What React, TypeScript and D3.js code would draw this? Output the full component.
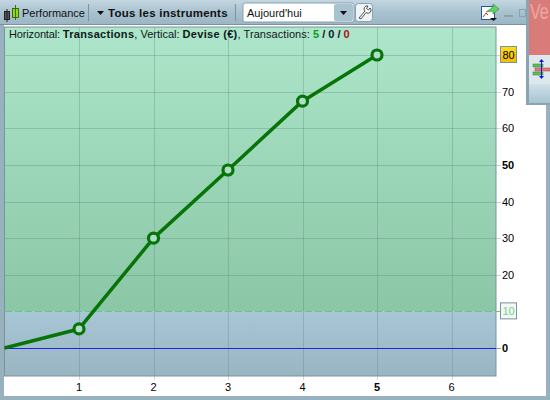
import { useRef, useEffect } from 'react'
import * as d3 from 'd3'

const transactions = [0, 1, 2, 3, 4, 5]
const equity = [0, 5.2, 30, 48.6, 67.4, 80]
const xTicks = [1, 2, 3, 4, 5, 6]
const yTicks = [0, 10, 20, 30, 40, 50, 60, 70, 80]
const yLabels = [0, 20, 30, 40, 50, 60, 70]
const boldYLabels = [0, 50]
const boldXLabels = [5]
const threshold = 10
const lastValue = 80
const font = '"Liberation Sans", Arial, sans-serif'

export default function App() {
  const ref = useRef<SVGSVGElement>(null)

  useEffect(() => {
    if (!ref.current) return
    document.body.style.margin = '0'
    const svg = d3.select(ref.current)
    svg.selectAll('*').remove()

    const plot = { left: 4.5, right: 496, top: 27, bottom: 376 }
    const x = d3.scaleLinear().domain([0, 6]).range([4.5, 451.5])
    const y = d3.scaleLinear().domain([0, 80]).range([348, 55])

    const defs = svg.append('defs')
    const gradient = (id: string, stops: [number, string][]) => {
      const g = defs.append('linearGradient').attr('id', id).attr('x1', 0).attr('x2', 0).attr('y1', 0).attr('y2', 1)
      stops.forEach(([o, c]) => g.append('stop').attr('offset', o).attr('stop-color', c))
    }
    gradient('bar', [[0, '#c3d7e1'], [0.5, '#a8c1cf'], [1, '#9ab5c4']])
    gradient('green', [[0, '#ade6ca'], [1, '#8bc6a6']])
    gradient('blue', [[0, '#a7c6d6'], [1, '#9ab5c2']])
    gradient('strip', [[0, '#cfe0e8'], [1, '#a9c4d2']])
    gradient('gold', [[0, '#ffdc1e'], [1, '#f2bb00']])

    // window frame
    svg.append('rect').attr('width', 550).attr('height', 400).attr('fill', '#97b1bf')
    svg.append('rect').attr('x', 0).attr('y', 0).attr('width', 550).attr('height', 25).attr('fill', 'url(#bar)')
    svg.append('rect').attr('x', 4).attr('y', 25).attr('width', 542).attr('height', 371).attr('fill', '#fff')
    svg.append('rect').attr('x', 0).attr('y', 24).attr('width', 546).attr('height', 1).attr('fill', '#7c929e')

    // plot background
    svg.append('rect').attr('x', plot.left).attr('y', plot.top).attr('width', plot.right - plot.left)
      .attr('height', y(threshold) - plot.top).attr('fill', 'url(#green)')
    svg.append('rect').attr('x', plot.left).attr('y', y(threshold)).attr('width', plot.right - plot.left)
      .attr('height', plot.bottom - y(threshold)).attr('fill', 'url(#blue)')

    // grid
    svg.append('g').selectAll('line').data(xTicks).join('line')
      .attr('x1', (d) => Math.round(x(d)) + 0.5).attr('x2', (d) => Math.round(x(d)) + 0.5).attr('y1', plot.top).attr('y2', plot.bottom + 4)
      .attr('stroke', '#4f7f78').attr('stroke-opacity', 0.3)
    svg.append('g').selectAll('line').data(yTicks.filter((d) => d !== 0 && d !== threshold)).join('line')
      .attr('x1', plot.left).attr('x2', plot.right + 5).attr('y1', (d) => Math.round(y(d)) + 0.5).attr('y2', (d) => Math.round(y(d)) + 0.5)
      .attr('stroke', '#4f7f78').attr('stroke-opacity', 0.3)

    svg.append('rect').attr('x', plot.left).attr('y', plot.top).attr('width', plot.right - plot.left)
      .attr('height', plot.bottom - plot.top).attr('fill', 'none').attr('stroke', '#7b939d')

    // zero and threshold lines
    svg.append('line').attr('x1', plot.left).attr('x2', plot.right).attr('y1', y(0) + 0.5).attr('y2', y(0) + 0.5)
      .attr('stroke', '#2222e0')
    svg.append('line').attr('x1', plot.right).attr('x2', plot.right + 5).attr('y1', y(0) + 0.5).attr('y2', y(0) + 0.5)
      .attr('stroke', '#8a9aa4')
    svg.append('line').attr('x1', plot.left).attr('x2', plot.right + 5).attr('y1', Math.round(y(threshold)) + 0.5).attr('y2', Math.round(y(threshold)) + 0.5)
      .attr('stroke', '#6cc585').attr('stroke-dasharray', '8 2')

    // axis labels
    svg.append('g').selectAll('text').data(xTicks).join('text')
      .attr('x', (d) => x(d)).attr('y', 391).attr('text-anchor', 'middle')
      .attr('font-family', font).attr('font-size', 11)
      .attr('font-weight', (d) => (boldXLabels.includes(d) ? 'bold' : 'normal'))
      .text((d) => d)
    svg.append('g').selectAll('text').data(yLabels).join('text')
      .attr('x', 502).attr('y', (d) => y(d) + 4)
      .attr('font-family', font).attr('font-size', 11)
      .attr('font-weight', (d) => (boldYLabels.includes(d) ? 'bold' : 'normal'))
      .text((d) => d)

    // value flags
    svg.append('rect').attr('x', 500.5).attr('y', y(lastValue) - 8.5).attr('width', 16).attr('height', 16)
      .attr('fill', 'url(#gold)').attr('stroke', '#7b939d')
    svg.append('text').attr('x', 508.5).attr('y', y(lastValue) + 4).attr('text-anchor', 'middle')
      .attr('font-family', font).attr('font-size', 11).text(lastValue)
    svg.append('rect').attr('x', 500.5).attr('y', y(threshold) - 8.5).attr('width', 16).attr('height', 16)
      .attr('fill', '#f4f7f8').attr('stroke', '#7b939d')
    svg.append('text').attr('x', 508.5).attr('y', y(threshold) + 4).attr('text-anchor', 'middle')
      .attr('font-family', font).attr('font-size', 11).attr('fill', '#6fd67f').text(threshold)

    // equity curve
    const pts = transactions.map((t, i) => [x(t), y(equity[i])] as [number, number])
    svg.append('path').attr('d', d3.line()(pts)).attr('fill', 'none').attr('stroke', '#067406')
      .attr('stroke-width', 3.5).attr('stroke-linejoin', 'round')
    svg.append('g').selectAll('circle').data(pts.slice(1)).join('circle')
      .attr('cx', (d) => d[0]).attr('cy', (d) => d[1]).attr('r', 5)
      .attr('fill', '#b0dccb').attr('stroke', '#067406').attr('stroke-width', 3.2)

    // header line
    const header = svg.append('text').attr('x', 9).attr('y', 38).attr('font-family', font).attr('font-size', 11).attr('fill', '#101820')
    const part = (t: string, spacing: number, bold = false, fill?: string) => {
      const s = header.append('tspan').text(t).attr('font-weight', bold ? 'bold' : 'normal').attr('letter-spacing', spacing)
      if (fill) s.attr('fill', fill)
    }
    part('Horizontal: ', -0.15)
    part('Transactions', 0.3, true)
    part(', Vertical: ', 0)
    part('Devise (€)', 0.3, true)
    part(', Transactions: ', 0.05)
    part('5', 0, true, '#119a11')
    part(' / ', 0, true)
    part('0', 0, true)
    part(' / ', 0, true)
    part('0', 0, true, '#a81212')

    // toolbar
    const bar = svg.append('g')
    bar.append('rect').attr('x', 4.5).attr('y', 11.5).attr('width', 5).attr('height', 8).attr('fill', '#555').attr('stroke', '#222')
    bar.append('line').attr('x1', 7).attr('x2', 7).attr('y1', 9).attr('y2', 22).attr('stroke', '#222')
    bar.append('rect').attr('x', 12.5).attr('y', 8.5).attr('width', 6).attr('height', 9).attr('fill', '#8cd820').attr('stroke', '#3c6a08')
    bar.append('line').attr('x1', 15.5).attr('x2', 15.5).attr('y1', 5).attr('y2', 20).attr('stroke', '#3c6a08')
    bar.append('text').attr('x', 22).attr('y', 17).attr('font-family', font).attr('font-size', 11).attr('fill', '#111').text('Performance')
    ;[88.5, 235.5].forEach((p) => bar.append('line').attr('x1', p).attr('x2', p).attr('y1', 4).attr('y2', 21).attr('stroke', '#7c929e'))
    bar.append('path').attr('d', 'M97 11h7l-3.5 4z').attr('fill', '#111')
    bar.append('text').attr('x', 108).attr('y', 17).attr('font-family', font).attr('font-size', 11.5).attr('font-weight', 'bold')
      .attr('letter-spacing', 0.25).attr('fill', '#111').text('Tous les instruments')
    bar.append('rect').attr('x', 243).attr('y', 3).attr('width', 111).attr('height', 19).attr('rx', 2).attr('fill', '#fff').attr('stroke', '#8aa0ac')
    bar.append('text').attr('x', 247).attr('y', 17).attr('font-family', font).attr('font-size', 11).attr('fill', '#111').text("Aujourd'hui")
    bar.append('rect').attr('x', 334).attr('y', 4).attr('width', 19).attr('height', 17).attr('rx', 2).attr('fill', '#a9c2d0')
    bar.append('path').attr('d', 'M340 11h7l-3.5 4z').attr('fill', '#111')
    bar.append('rect').attr('x', 355.5).attr('y', 3.5).attr('width', 17).attr('height', 18).attr('rx', 3).attr('fill', '#eef3f6').attr('stroke', '#8aa0ac')
    bar.append('path').attr('d', 'M359 18l6-7a3 3 0 0 1 3-5l-1.5 2.5 2 1.5 1.5-2a3 3 0 0 1-4 4.5l-5 6.5z')
      .attr('fill', '#fff').attr('stroke', '#222').attr('stroke-width', 0.8)

    // export icon and window buttons
    bar.append('rect').attr('x', 481.5).attr('y', 6.5).attr('width', 13).attr('height', 13).attr('fill', '#fff').attr('stroke', '#2a55a5')
    bar.append('path').attr('d', 'M483 17l3-4 2 2').attr('fill', 'none').attr('stroke', '#c03030')
    bar.append('path').attr('d', 'M486 12l7-5v-3l6 5-6 5v-3z').attr('fill', '#5fd35f').attr('stroke', '#2c8c2c').attr('stroke-width', 0.6)
    bar.append('path').attr('d', 'M490 18h7l-3.5 3z').attr('fill', '#111')
    bar.append('rect').attr('x', 504).attr('y', 15).attr('width', 9).attr('height', 2).attr('fill', '#8aa3b0')
    bar.append('rect').attr('x', 519.5).attr('y', 9.5).attr('width', 6).attr('height', 7).attr('fill', 'none').attr('stroke', '#8aa3b0')

    // side window
    const side = svg.append('g')
    side.append('rect').attr('x', 526).attr('y', 0).attr('width', 24).attr('height', 105).attr('fill', '#8ba4b2')
    side.append('rect').attr('x', 529).attr('y', 0).attr('width', 21).attr('height', 55).attr('fill', '#d97c79')
    side.append('text').attr('transform', 'translate(530,19) scale(1,1.35)').attr('font-family', font).attr('font-size', 16)
      .attr('fill', '#eda8a4').text('Ve')
    side.append('rect').attr('x', 529).attr('y', 55).attr('width', 21).attr('height', 29).attr('fill', '#dde8ed')
    side.append('rect').attr('x', 529).attr('y', 84).attr('width', 21).attr('height', 19).attr('fill', 'url(#strip)')
    side.append('rect').attr('x', 533).attr('y', 64).attr('width', 10).attr('height', 3).attr('fill', '#5cbf5c').attr('stroke', '#3a7a3a').attr('stroke-width', 0.5)
    side.append('rect').attr('x', 535).attr('y', 68).attr('width', 15).attr('height', 3).attr('fill', '#e87a7a').attr('stroke', '#a04040').attr('stroke-width', 0.5)
    side.append('rect').attr('x', 533).attr('y', 72).attr('width', 10).attr('height', 3).attr('fill', '#5cbf5c').attr('stroke', '#3a7a3a').attr('stroke-width', 0.5)
    side.append('line').attr('x1', 541.5).attr('x2', 541.5).attr('y1', 60).attr('y2', 78).attr('stroke', '#1414e0')
    side.append('path').attr('d', 'M539 62l2.5-3 2.5 3zM539 76l2.5 3 2.5-3z').attr('fill', '#1414e0')
  }, [])

  return <svg ref={ref} width={550} height={400} style={{ display: 'block' }} />
}
